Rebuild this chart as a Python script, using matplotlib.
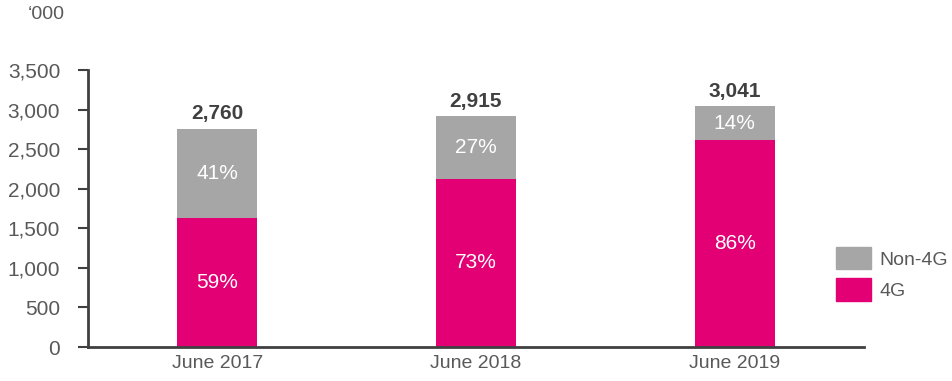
import matplotlib
matplotlib.use("Agg")
from matplotlib import pyplot as plt
from matplotlib.patches import Patch

# data ('000 customers)
periods = ["June 2017", "June 2018", "June 2019"]
totals = [2760, 2915, 3041]
lte = [1628, 2128, 2615]
non_lte = [1132, 787, 426]
lte_share = ["59%", "73%", "86%"]
non_lte_share = ["41%", "27%", "14%"]

magenta = "#E20074"
grey = "#A6A6A6"
dark = "#404040"
txt = "#595959"

plt.rcParams["font.family"] = ["Liberation Sans", "DejaVu Sans"]

fig = plt.figure(figsize=(9.53, 3.81), dpi=100)
ax = fig.add_axes([0.0923, 0.0892, 0.8143, 0.7271])

x = range(len(periods))
w = 0.31
ax.bar(x, lte, w, color=magenta, label="4G")
ax.bar(x, non_lte, w, bottom=lte, color=grey, label="Non-4G")

for i in x:
    ax.text(i, lte[i] / 2, lte_share[i], ha="center", va="center", color="white", fontsize=15)
    ax.text(i, lte[i] + non_lte[i] / 2, non_lte_share[i], ha="center", va="center",
            color="white", fontsize=15)
    ax.text(i, totals[i] + 70, f"{totals[i]:,}", ha="center", va="bottom", color=dark,
            fontsize=15, fontweight="bold")

ax.set_xlim(-0.5, 2.5)
ax.set_ylim(0, 3500)
ax.set_yticks(range(0, 3501, 500))
ax.set_yticklabels([f"{v:,}" for v in range(0, 3501, 500)])
ax.set_xticks(list(x))
ax.set_xticklabels(periods)
ax.tick_params(axis="y", length=7, width=1.5, color=dark, labelsize=15, labelcolor=txt, pad=13)
ax.tick_params(axis="x", length=0, labelsize=14, labelcolor=txt, pad=6)

for s in ["top", "right"]:
    ax.spines[s].set_visible(False)
for s in ["left", "bottom"]:
    ax.spines[s].set_color(dark)
    ax.spines[s].set_linewidth(2)

fig.text(0.029, 0.985, "\u2018000", color=txt, fontsize=14, ha="left", va="top")

handles = [Patch(color=grey, label="Non-4G"), Patch(color=magenta, label="4G")]
fig.legend(handles=handles, loc="upper left", bbox_to_anchor=(0.877, 0.352), frameon=False,
           fontsize=14, labelcolor=txt, handlelength=1.8, handleheight=1.4,
           handletextpad=0.45, labelspacing=0.45, borderaxespad=0, borderpad=0)

fig.savefig("out.png", dpi=100)
